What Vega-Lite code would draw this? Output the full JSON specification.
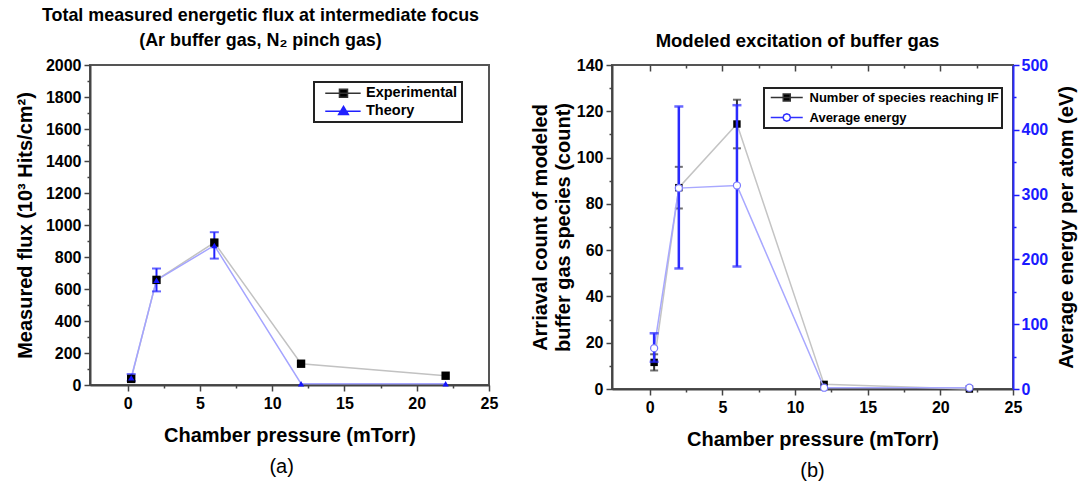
{
  "$schema": "https://vega.github.io/schema/vega-lite/v6.json",
  "padding": {"left": 14, "top": 6, "right": 2, "bottom": 4},
  "background": "white",
  "datasets": {
    "flux": [
      {"s": "Experimental", "x": 0.25, "y": 38},
      {"s": "Experimental", "x": 2, "y": 657},
      {"s": "Experimental", "x": 6, "y": 890},
      {"s": "Experimental", "x": 12, "y": 133},
      {"s": "Experimental", "x": 22, "y": 58},
      {"s": "Theory", "x": 0.25, "y": 45, "lo": 25, "hi": 68},
      {"s": "Theory", "x": 2, "y": 655, "lo": 585, "hi": 728},
      {"s": "Theory", "x": 6, "y": 872, "lo": 790, "hi": 955},
      {"s": "Theory", "x": 12, "y": 8},
      {"s": "Theory", "x": 22, "y": 8}
    ],
    "model": [
      {"s": "Number of species reaching IF", "x": 0.3, "y": 11.5, "lo": 8, "hi": 15},
      {"s": "Number of species reaching IF", "x": 2, "y": 87, "lo": 78, "hi": 96},
      {"s": "Number of species reaching IF", "x": 6, "y": 114.5, "lo": 104, "hi": 125},
      {"s": "Number of species reaching IF", "x": 12, "y": 2},
      {"s": "Number of species reaching IF", "x": 22, "y": 0},
      {"s": "Average energy", "x": 0.3, "y": 63, "lo": 42, "hi": 86},
      {"s": "Average energy", "x": 2, "y": 310, "lo": 186, "hi": 436},
      {"s": "Average energy", "x": 6, "y": 314, "lo": 189, "hi": 438},
      {"s": "Average energy", "x": 12, "y": 2},
      {"s": "Average energy", "x": 22, "y": 2}
    ]
  },
  "spacing": 30,
  "resolve": {"scale": {"shape": "independent", "fill": "independent", "stroke": "independent"}},
  "hconcat": [
    {
      "title": {"text": "(a)", "orient": "bottom", "fontSize": 20, "fontWeight": "normal", "offset": 11, "dx": 25},
      "vconcat": [
        {
          "width": 399,
          "height": 320,
          "title": {"text": ["Total measured energetic flux at intermediate focus", "(Ar buffer gas, N₂ pinch gas)"], "lineHeight": 25, "offset": 7, "dx": -29, "fontSize": 17.9},
          "data": {"name": "flux"},
          "encoding": {
            "x": {
              "field": "x", "type": "quantitative",
              "scale": {"domain": [-2.6, 25], "nice": false, "zero": false},
              "axis": {
                "title": "Chamber pressure (mTorr)",
                "values": [0, 2.5, 5, 7.5, 10, 12.5, 15, 17.5, 20, 22.5, 25],
                "labelExpr": "datum.value % 5 === 0 ? datum.label : ''",
                "tickSize": {"condition": {"test": "datum.value % 5 === 0", "value": 6}, "value": 3},
                "labelPadding": 4,
                "titlePadding": 14
              }
            }
          },
          "layer": [
            {
              "transform": [{"filter": "datum.s === 'Experimental'"}],
              "mark": {"type": "line", "color": "#c2c2c2", "strokeWidth": 1.5},
              "encoding": {
                "y": {
                  "field": "y", "type": "quantitative",
                  "scale": {"domain": [0, 2000], "nice": false},
                  "axis": {
                    "title": "Measured flux (10³ Hits/cm²)",
                    "values": [0, 100, 200, 300, 400, 500, 600, 700, 800, 900, 1000, 1100, 1200, 1300, 1400, 1500, 1600, 1700, 1800, 1900, 2000],
                    "format": "d",
                    "labelExpr": "datum.value % 200 === 0 ? datum.label : ''",
                    "tickSize": {"condition": {"test": "datum.value % 200 === 0", "value": 6}, "value": 3},
                    "labelPadding": 3,
                    "titlePadding": 10
                  }
                }
              }
            },
            {
              "transform": [{"filter": "datum.s === 'Theory'"}],
              "mark": {"type": "line", "color": "#a4a4ff", "strokeWidth": 1.5},
              "encoding": {
                "y": {
                  "field": "y", "type": "quantitative",
                  "scale": {"domain": [0, 2000], "nice": false},
                  "axis": {
                    "title": "Measured flux (10³ Hits/cm²)",
                    "values": [0, 100, 200, 300, 400, 500, 600, 700, 800, 900, 1000, 1100, 1200, 1300, 1400, 1500, 1600, 1700, 1800, 1900, 2000],
                    "format": "d",
                    "labelExpr": "datum.value % 200 === 0 ? datum.label : ''",
                    "tickSize": {"condition": {"test": "datum.value % 200 === 0", "value": 6}, "value": 3},
                    "labelPadding": 3,
                    "titlePadding": 10
                  }
                }
              }
            },
            {
              "transform": [{"filter": "datum.s === 'Theory' && isValid(datum.lo)"}],
              "mark": {"type": "errorbar", "color": "#2222ff", "size": 9, "thickness": 2, "ticks": true},
              "encoding": {
                "y": {
                  "field": "lo", "type": "quantitative",
                  "scale": {"domain": [0, 2000], "nice": false},
                  "axis": {
                    "title": "Measured flux (10³ Hits/cm²)",
                    "values": [0, 100, 200, 300, 400, 500, 600, 700, 800, 900, 1000, 1100, 1200, 1300, 1400, 1500, 1600, 1700, 1800, 1900, 2000],
                    "format": "d",
                    "labelExpr": "datum.value % 200 === 0 ? datum.label : ''",
                    "tickSize": {"condition": {"test": "datum.value % 200 === 0", "value": 6}, "value": 3},
                    "labelPadding": 3,
                    "titlePadding": 10
                  }
                },
                "y2": {"field": "hi"}
              }
            },
            {
              "transform": [{"filter": "datum.s === 'Experimental'"}],
              "mark": {"type": "point", "shape": "square", "filled": true, "color": "#000", "size": 70, "opacity": 1},
              "encoding": {
                "y": {
                  "field": "y", "type": "quantitative",
                  "scale": {"domain": [0, 2000], "nice": false},
                  "axis": {
                    "title": "Measured flux (10³ Hits/cm²)",
                    "values": [0, 100, 200, 300, 400, 500, 600, 700, 800, 900, 1000, 1100, 1200, 1300, 1400, 1500, 1600, 1700, 1800, 1900, 2000],
                    "format": "d",
                    "labelExpr": "datum.value % 200 === 0 ? datum.label : ''",
                    "tickSize": {"condition": {"test": "datum.value % 200 === 0", "value": 6}, "value": 3},
                    "labelPadding": 3,
                    "titlePadding": 10
                  }
                }
              }
            },
            {
              "transform": [{"filter": "datum.s === 'Theory'"}],
              "mark": {"type": "point", "shape": "triangle-up", "filled": true, "color": "#1414ff", "size": 40, "opacity": 1},
              "encoding": {
                "y": {
                  "field": "y", "type": "quantitative",
                  "scale": {"domain": [0, 2000], "nice": false},
                  "axis": {
                    "title": "Measured flux (10³ Hits/cm²)",
                    "values": [0, 100, 200, 300, 400, 500, 600, 700, 800, 900, 1000, 1100, 1200, 1300, 1400, 1500, 1600, 1700, 1800, 1900, 2000],
                    "format": "d",
                    "labelExpr": "datum.value % 200 === 0 ? datum.label : ''",
                    "tickSize": {"condition": {"test": "datum.value % 200 === 0", "value": 6}, "value": 3},
                    "labelPadding": 3,
                    "titlePadding": 10
                  }
                }
              }
            },
            {
              "transform": [{"filter": "false"}],
              "mark": {"type": "point", "filled": true},
              "encoding": {
                "shape": {
                  "field": "s", "type": "nominal",
                  "scale": {"domain": ["Experimental", "Theory"], "range": ["M0,0H5.9M2.37,-0.67H3.71V0.67H2.37Z", "M0,0H5.9M3.04,-0.8L3.85,0.55H2.23Z"]},
                  "legend": {"orient": "none", "legendX": 224, "legendY": 17, "title": null, "padding": 4, "labelFontSize": 14.5, "symbolSize": 144, "labelOffset": 33.5, "rowPadding": 2, "columnPadding": 0, "labelLimit": 300}
                },
                "fill": {
                  "field": "s", "type": "nominal",
                  "scale": {"domain": ["Experimental", "Theory"], "range": ["#000000", "#2020ff"]},
                  "legend": {"orient": "none", "legendX": 224, "legendY": 17, "title": null, "padding": 4, "labelFontSize": 14.5, "symbolSize": 144, "labelOffset": 33.5, "rowPadding": 2, "columnPadding": 0, "labelLimit": 300}
                },
                "stroke": {
                  "field": "s", "type": "nominal",
                  "scale": {"domain": ["Experimental", "Theory"], "range": ["#333333", "#2020ff"]},
                  "legend": {"orient": "none", "legendX": 224, "legendY": 17, "title": null, "padding": 4, "labelFontSize": 14.5, "symbolSize": 144, "labelOffset": 33.5, "rowPadding": 2, "columnPadding": 0, "labelLimit": 300}
                }
              }
            }
          ]
        }
      ]
    },
    {
      "title": {"text": "(b)", "orient": "bottom", "fontSize": 20, "fontWeight": "normal", "offset": 11, "dx": 9},
      "vconcat": [
        {
          "width": 401,
          "height": 324,
          "title": {"text": "Modeled excitation of buffer gas", "offset": 7, "dx": -15},
          "data": {"name": "model"},
          "resolve": {"scale": {"y": "independent"}, "axis": {"x": "independent"}},
          "layer": [
            {
              "transform": [{"filter": "datum.s === 'Number of species reaching IF'"}],
              "encoding": {
                "x": {
                  "field": "x", "type": "quantitative",
                  "scale": {"domain": [-2.6, 25], "nice": false, "zero": false},
                  "axis": {
                    "title": "Chamber pressure (mTorr)",
                    "values": [0, 2.5, 5, 7.5, 10, 12.5, 15, 17.5, 20, 22.5, 25],
                    "labelExpr": "datum.value % 5 === 0 ? datum.label : ''",
                    "tickSize": {"condition": {"test": "datum.value % 5 === 0", "value": 6}, "value": 3},
                    "labelPadding": 4,
                    "titlePadding": 14
                  }
                },
                "y": {
                  "field": "y", "type": "quantitative",
                  "scale": {"domain": [0, 140], "nice": false},
                  "axis": {
                    "title": ["Arriaval count of modeled", "buffer gas species (count)"],
                    "values": [0, 10, 20, 30, 40, 50, 60, 70, 80, 90, 100, 110, 120, 130, 140],
                    "labelExpr": "datum.value % 20 === 0 ? datum.label : ''",
                    "tickSize": {"condition": {"test": "datum.value % 20 === 0", "value": 6}, "value": 3},
                    "labelPadding": 3,
                    "titlePadding": 3,
                    "titleLineHeight": 23
                  }
                }
              },
              "layer": [
                {
                  "mark": {"type": "line", "color": "#c4c4c4", "strokeWidth": 1.5}
                },
                {
                  "transform": [{"filter": "isValid(datum.lo)"}],
                  "mark": {"type": "rule", "color": "#333333", "strokeWidth": 2},
                  "encoding": {"y": {"field": "lo", "type": "quantitative"}, "y2": {"field": "hi"}}
                },
                {
                  "transform": [{"filter": "isValid(datum.lo)"}],
                  "mark": {"type": "tick", "orient": "horizontal", "color": "#333333", "size": 8, "thickness": 2},
                  "encoding": {"y": {"field": "lo", "type": "quantitative"}}
                },
                {
                  "transform": [{"filter": "isValid(datum.lo)"}],
                  "mark": {"type": "tick", "orient": "horizontal", "color": "#333333", "size": 8, "thickness": 2},
                  "encoding": {"y": {"field": "hi", "type": "quantitative"}}
                },
                {
                  "mark": {"type": "point", "shape": "square", "filled": true, "color": "#000", "size": 55, "opacity": 1}
                }
              ]
            },
            {
              "transform": [{"filter": "datum.s === 'Average energy'"}],
              "encoding": {
                "x": {
                  "field": "x", "type": "quantitative",
                  "scale": {"domain": [-2.6, 25], "nice": false, "zero": false},
                  "axis": {
                    "orient": "top", "title": null, "labels": false, "domain": false,
                    "values": [0, 2.5, 5, 7.5, 10, 12.5, 15, 17.5, 20, 22.5],
                    "tickSize": {"condition": {"test": "datum.value % 5 === 0", "value": -6}, "value": -3}
                  }
                },
                "y": {
                  "field": "y", "type": "quantitative",
                  "scale": {"domain": [0, 500], "nice": false},
                  "axis": {
                    "orient": "right",
                    "title": "Average energy per atom (eV)",
                    "titleAngle": 270,
                    "titleBaseline": "top",
                    "values": [0, 50, 100, 150, 200, 250, 300, 350, 400, 450, 500],
                    "labelExpr": "datum.value % 100 === 0 ? datum.label : ''",
                    "tickSize": {"condition": {"test": "datum.value % 100 === 0", "value": 6}, "value": 3},
                    "labelColor": "#1a1aff",
                    "tickColor": "#1a1aff",
                    "domainColor": "#2a2aff",
                    "labelPadding": 2,
                    "titlePadding": 9
                  }
                }
              },
              "layer": [
                {
                  "mark": {"type": "line", "color": "#a8a8ff", "strokeWidth": 1.5}
                },
                {
                  "transform": [{"filter": "isValid(datum.lo)"}],
                  "mark": {"type": "rule", "color": "#2a2aff", "strokeWidth": 2.5},
                  "encoding": {"y": {"field": "lo", "type": "quantitative"}, "y2": {"field": "hi"}}
                },
                {
                  "transform": [{"filter": "isValid(datum.lo)"}],
                  "mark": {"type": "tick", "orient": "horizontal", "color": "#2a2aff", "size": 9, "thickness": 2.5},
                  "encoding": {"y": {"field": "lo", "type": "quantitative"}}
                },
                {
                  "transform": [{"filter": "isValid(datum.lo)"}],
                  "mark": {"type": "tick", "orient": "horizontal", "color": "#2a2aff", "size": 9, "thickness": 2.5},
                  "encoding": {"y": {"field": "hi", "type": "quantitative"}}
                },
                {
                  "mark": {"type": "point", "shape": "circle", "filled": false, "fill": "#ffffff", "fillOpacity": 1, "stroke": "#7a7aff", "strokeWidth": 1.2, "size": 50, "opacity": 1}
                }
              ]
            },
            {
              "transform": [{"filter": "false"}],
              "mark": {"type": "point", "filled": true},
              "encoding": {
                "shape": {
                  "field": "s", "type": "nominal",
                  "scale": {"domain": ["Number of species reaching IF", "Average energy"], "range": ["M-0.55,0H5.85M1.95,-0.7H3.35V0.7H1.95Z", "M-0.55,0H1.9M3.4,0H5.85M3.4,0L3.18,0.53L2.65,0.75L2.12,0.53L1.9,0L2.12,-0.53L2.65,-0.75L3.18,-0.53Z"]},
                  "legend": {"orient": "none", "legendX": 152, "legendY": 23, "title": null, "padding": 3, "labelFontSize": 13, "symbolSize": 100, "labelOffset": 29.5, "rowPadding": 5, "columnPadding": 0, "labelLimit": 300}
                },
                "fill": {
                  "field": "s", "type": "nominal",
                  "scale": {"domain": ["Number of species reaching IF", "Average energy"], "range": ["#000000", "#ffffff"]},
                  "legend": {"orient": "none", "legendX": 152, "legendY": 23, "title": null, "padding": 3, "labelFontSize": 13, "symbolSize": 100, "labelOffset": 29.5, "rowPadding": 5, "columnPadding": 0, "labelLimit": 300}
                },
                "stroke": {
                  "field": "s", "type": "nominal",
                  "scale": {"domain": ["Number of species reaching IF", "Average energy"], "range": ["#333333", "#3030ff"]},
                  "legend": {"orient": "none", "legendX": 152, "legendY": 23, "title": null, "padding": 3, "labelFontSize": 13, "symbolSize": 100, "labelOffset": 29.5, "rowPadding": 5, "columnPadding": 0, "labelLimit": 300}
                }
              }
            }
          ]
        }
      ]
    }
  ],
  "config": {
    "font": "Liberation Sans",
    "view": {"stroke": "#555555", "strokeWidth": 2},
    "axis": {
      "labelFont": "Liberation Sans", "labelFontSize": 16, "labelFontWeight": "bold", "labelColor": "#000000",
      "titleFont": "Liberation Sans", "titleFontSize": 20, "titleFontWeight": "bold", "titleColor": "#000000",
      "domainColor": "#444444", "domainWidth": 2, "tickColor": "#444444", "tickWidth": 1.5,
      "grid": false, "labelFlush": false, "labelOverlap": false
    },
    "title": {"font": "Liberation Sans", "fontSize": 18.5, "fontWeight": "bold", "color": "#000000", "anchor": "middle"},
    "legend": {
      "labelFont": "Liberation Sans", "labelFontWeight": "bold", "labelColor": "#000000",
      "strokeColor": "#222222", "strokeWidth": 2, "fillColor": "#ffffff", "symbolStrokeWidth": 1.5, "symbolOpacity": 1
    }
  }
}
